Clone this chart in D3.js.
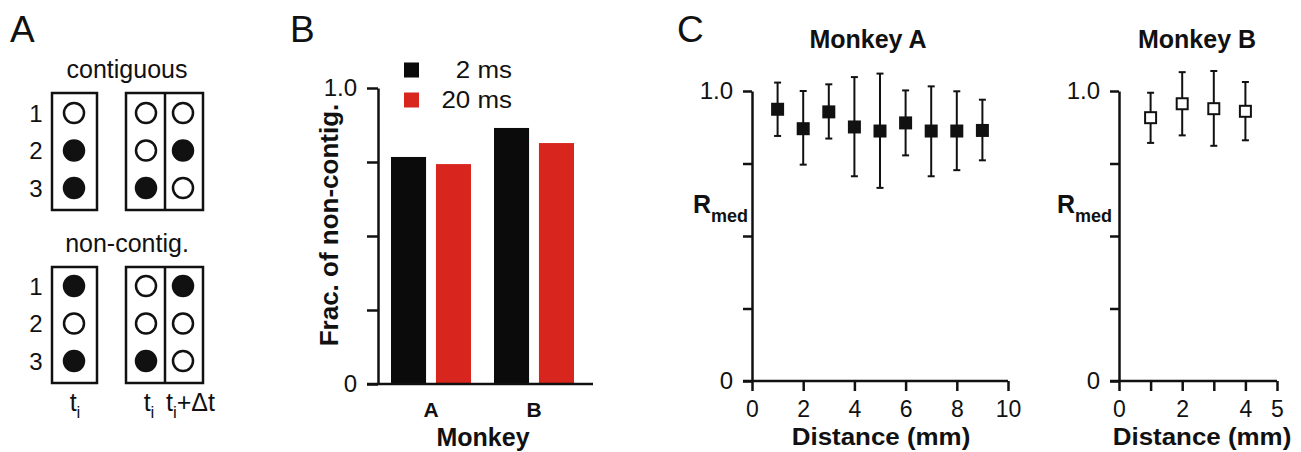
<!DOCTYPE html>
<html><head><meta charset="utf-8">
<script src="https://cdn.jsdelivr.net/npm/d3@7"></script>
<style>body{margin:0;background:#fff}svg{display:block}</style>
</head><body>
<script>
// ---------------- Data ----------------
// Panel A: electrode rows and active (1) / inactive (0) states
const rowLabels = ["1", "2", "3"];
const contigSingle = [0, 1, 1];
const contigPairT0 = [0, 0, 1];
const contigPairT1 = [0, 1, 0];
const nonContigSingle = [1, 0, 1];
const nonContigPairT0 = [0, 0, 1];
const nonContigPairT1 = [1, 0, 0];

// Panel B: fraction of non-contiguous
const monkeys = ["A", "B"];
const delays = ["2 ms", "20 ms"];
const frac2ms = [0.767, 0.865];
const frac20ms = [0.743, 0.814];
const fracTicks = [0, 0.25, 0.5, 0.75, 1];

// Panel C: R_med vs distance
const distA = [1, 2, 3, 4, 5, 6, 7, 8, 9];
const rmedA = [0.937, 0.870, 0.928, 0.876, 0.862, 0.890, 0.862, 0.862, 0.864];
const rmedAHi = [1.029, 1.000, 1.023, 1.048, 1.060, 1.002, 1.016, 0.999, 0.970];
const rmedALo = [0.845, 0.746, 0.836, 0.706, 0.666, 0.778, 0.706, 0.727, 0.761];
const distB = [1, 2, 3, 4];
const rmedB = [0.908, 0.956, 0.939, 0.930];
const rmedBHi = [0.994, 1.065, 1.069, 1.031];
const rmedBLo = [0.821, 0.847, 0.811, 0.830];
const rTicks = [0, 0.25, 0.5, 0.75, 1];
const distTicksA = [0, 2, 4, 6, 8, 10];
const distTicksB = [0, 1, 2, 3, 4, 5];
const distLabelsB = [0, 2, 4, 5];

// ---------------- Drawing ----------------
const FONT = "'Liberation Sans', Arial, Helvetica, sans-serif";
const INK = "#111";
const svg = d3.select("body").append("svg").attr("width", 1301).attr("height", 452);
svg.append("rect").attr("width", 1301).attr("height", 452).attr("fill", "#fff");

function txt(g, x, y, str, o = {}) {
  return g.append("text")
    .attr("transform", `translate(${x},${y}) ${o.rot ? "rotate(" + o.rot + ")" : ""} scale(${o.sx || 1},1)`)
    .attr("font-family", FONT).attr("font-size", o.size || 24)
    .attr("font-weight", o.weight || "normal")
    .attr("text-anchor", o.anchor || "start").attr("fill", INK).text(str);
}
function styleAxis(g, size) {
  g.selectAll(".domain, .tick line").attr("stroke", INK).attr("stroke-width", 2.5);
  g.selectAll("text").attr("font-family", FONT).attr("font-size", size).attr("fill", INK);
}

// ----- Panel A -----
const gA = svg.append("g");
txt(gA, 10, 42, "A", {size: 37});
const blocks = [
  {title: "contiguous", ty: 78, rows: [113, 188], box: [93, 210], cols: [contigSingle, contigPairT0, contigPairT1]},
  {title: "non-contig.", ty: 252, rows: [286, 361], box: [267, 383], cols: [nonContigSingle, nonContigPairT0, nonContigPairT1]}
];
const colX = [74, 146, 183];
blocks.forEach(b => {
  txt(gA, 127, b.ty, b.title, {size: 25, anchor: "middle"});
  const yR = d3.scalePoint().domain(rowLabels).range(b.rows);
  rowLabels.forEach(r => txt(gA, 36, yR(r) + 8.5, r, {size: 24, anchor: "middle"}));
  gA.append("rect").attr("x", 52).attr("y", b.box[0]).attr("width", 45).attr("height", b.box[1] - b.box[0])
    .attr("fill", "none").attr("stroke", INK).attr("stroke-width", 2.5);
  gA.append("rect").attr("x", 126).attr("y", b.box[0]).attr("width", 77).attr("height", b.box[1] - b.box[0])
    .attr("fill", "none").attr("stroke", INK).attr("stroke-width", 2.5);
  gA.append("line").attr("x1", 165).attr("x2", 165).attr("y1", b.box[0]).attr("y2", b.box[1])
    .attr("stroke", INK).attr("stroke-width", 2.5);
  b.cols.forEach((col, ci) => {
    gA.selectAll(null).data(col).enter().append("circle")
      .attr("cx", colX[ci]).attr("cy", (d, i) => yR(rowLabels[i])).attr("r", 10)
      .attr("fill", d => d ? INK : "#fff").attr("stroke", INK).attr("stroke-width", 2.5);
  });
});
function tSub(g, x, y, anchor, rest) {
  const t = g.append("text").attr("x", x).attr("y", y).attr("font-family", FONT)
    .attr("font-size", 25).attr("text-anchor", anchor).attr("fill", INK);
  t.append("tspan").text("t");
  t.append("tspan").attr("font-size", 17).attr("dy", 7).text("i");
  if (rest) t.append("tspan").attr("dy", -7).text(rest);
}
tSub(gA, 75, 411, "middle");
tSub(gA, 149, 411, "middle");
tSub(gA, 166, 411, "start", "+\u0394t");

// ----- Panel B -----
const gB = svg.append("g");
txt(gB, 290, 42, "B", {size: 37});
const yB = d3.scaleLinear().domain([0, 1]).range([384, 88]);
const xB = d3.scalePoint().domain(monkeys).range([431, 534]);
const xIn = d3.scaleBand().domain(delays).range([-40, 40]).paddingInner(0.22);
const colB = d3.scaleOrdinal().domain(delays).range(["#0b0b0b", "#d8261e"]);
const seriesB = [frac2ms, frac20ms];
delays.forEach((dl, j) => {
  gB.selectAll(null).data(monkeys).enter().append("rect")
    .attr("x", m => xB(m) + xIn(dl)).attr("width", xIn.bandwidth())
    .attr("y", (m, i) => yB(seriesB[j][i]))
    .attr("height", (m, i) => yB(0) - yB(seriesB[j][i]))
    .attr("fill", colB(dl));
});
const axB = gB.append("g").attr("transform", "translate(378,0)")
  .call(d3.axisLeft(yB).tickValues(fracTicks).tickSize(11).tickSizeOuter(0).tickPadding(10)
    .tickFormat(d => d === 0 ? "0" : d === 1 ? "1.0" : ""));
styleAxis(axB, 24);
gB.append("line").attr("x1", 367).attr("x2", 593).attr("y1", yB(0)).attr("y2", yB(0))
  .attr("stroke", INK).attr("stroke-width", 2.5);
monkeys.forEach(m => txt(gB, xB(m), 417, m, {size: 21, weight: "bold", anchor: "middle"}));
txt(gB, 483, 446, "Monkey", {size: 25, weight: "bold", anchor: "middle"});
txt(gB, 338, 225, "Frac. of non-contig.", {size: 26, weight: "bold", anchor: "middle", rot: -90});
const yLeg = d3.scalePoint().domain(delays).range([70, 100]);
delays.forEach(dl => {
  gB.append("rect").attr("x", 404).attr("y", yLeg(dl) - 7.5).attr("width", 15).attr("height", 15).attr("fill", colB(dl));
  txt(gB, 512, yLeg(dl) + 8, dl, {size: 24, anchor: "end", sx: 1.08});
});

// ----- Panel C -----
const gC = svg.append("g");
txt(gC, 677, 42, "C", {size: 37});
const yC = d3.scaleLinear().domain([0, 1]).range([381, 91]);

function rPanel(opt) {
  const g = gC.append("g");
  const x = d3.scaleLinear().domain(opt.xdom).range(opt.xr);
  const ay = g.append("g").attr("transform", `translate(${opt.xr[0]},0)`)
    .call(d3.axisLeft(yC).tickValues(rTicks).tickSize(9).tickSizeOuter(0).tickPadding(10)
      .tickFormat(d => d === 0 ? "0" : d === 1 ? "1.0" : ""));
  styleAxis(ay, 24);
  const ax = g.append("g").attr("transform", `translate(0,${yC(0)})`)
    .call(d3.axisBottom(x).tickValues(opt.ticks).tickSize(10).tickSizeOuter(0).tickPadding(10)
      .tickFormat(opt.fmt));
  styleAxis(ax, 23);
  ax.select(".domain").remove();
  g.append("line").attr("x1", opt.xr[0] - 9).attr("x2", opt.xr[1]).attr("y1", yC(0)).attr("y2", yC(0))
    .attr("stroke", INK).attr("stroke-width", 2.5);
  const pts = opt.d.map((d, i) => ({x: d, y: opt.m[i], hi: opt.hi[i], lo: opt.lo[i]}));
  const eb = g.selectAll(null).data(pts).enter().append("g");
  eb.append("line").attr("x1", d => x(d.x)).attr("x2", d => x(d.x))
    .attr("y1", d => yC(d.hi)).attr("y2", d => yC(d.lo)).attr("stroke", INK).attr("stroke-width", 2);
  ["hi", "lo"].forEach(k => eb.append("line").attr("x1", d => x(d.x) - 3.5).attr("x2", d => x(d.x) + 3.5)
    .attr("y1", d => yC(d[k])).attr("y2", d => yC(d[k])).attr("stroke", INK).attr("stroke-width", 2));
  if (opt.open) {
    eb.append("rect").attr("x", d => x(d.x) - 5.5).attr("y", d => yC(d.y) - 5.5).attr("width", 11).attr("height", 11)
      .attr("fill", "#fff").attr("stroke", INK).attr("stroke-width", 2);
  } else {
    eb.append("rect").attr("x", d => x(d.x) - 6.5).attr("y", d => yC(d.y) - 6.5).attr("width", 13).attr("height", 13)
      .attr("fill", INK);
  }
  txt(g, opt.titleX, 48, opt.title, {size: 25, weight: "bold", anchor: "middle"});
  const r = g.append("text").attr("x", opt.rx).attr("y", 213).attr("font-family", FONT)
    .attr("font-weight", "bold").attr("font-size", 25).attr("fill", INK);
  r.append("tspan").text("R");
  r.append("tspan").attr("font-size", 18).attr("dy", 9).text("med");
  txt(g, opt.labX, 445, "Distance (mm)", {size: 24, weight: "bold", anchor: "middle", sx: 1.08});
}
rPanel({xdom: [0, 10], xr: [752, 1008], ticks: distTicksA, fmt: d => d,
  d: distA, m: rmedA, hi: rmedAHi, lo: rmedALo, open: false,
  title: "Monkey A", titleX: 868, rx: 693, labX: 881});
rPanel({xdom: [0, 5], xr: [1119, 1277], ticks: distTicksB, fmt: d => distLabelsB.includes(d) ? d : "",
  d: distB, m: rmedB, hi: rmedBHi, lo: rmedBLo, open: true,
  title: "Monkey B", titleX: 1197, rx: 1057, labX: 1202});
</script>
</body></html>
